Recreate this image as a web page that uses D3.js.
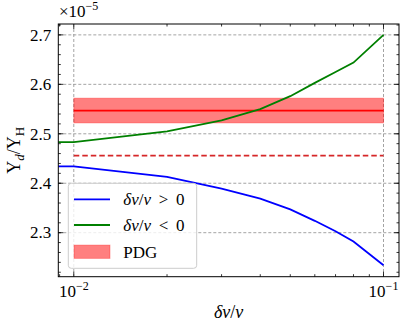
<!DOCTYPE html>
<html>
<head>
<meta charset="utf-8">
<script src="https://cdn.jsdelivr.net/npm/d3@7"></script>
<style>
  body { margin: 0; background: #fff; }
  text { font-family: "Liberation Serif", "DejaVu Serif", serif; fill: #000; }
</style>
</head>
<body>
<div id="chart"></div>
<script>
// values (y in units of 1e-5)
const dvOverV = [0.005, 0.01, 0.02, 0.03, 0.04, 0.05, 0.06, 0.07, 0.08, 0.1];
const positive = [2.434, 2.434, 2.413, 2.389, 2.369, 2.347, 2.324, 2.303, 2.282, 2.234];
const negative = [2.483, 2.483, 2.505, 2.527, 2.550, 2.576, 2.603, 2.625, 2.644, 2.700];
const pdgRange = [0.01, 0.1];
const pdgCentral = 2.547;
const pdgError = 0.025;
const dashedLevel = 2.456;
const yTicks = [2.3, 2.4, 2.5, 2.6, 2.7];
const yMinor = d3.range(2.22, 2.73, 0.02);
const xTicks = [0.01, 0.1];
const xMinor = [0.009, 0.02, 0.03, 0.04, 0.05, 0.06, 0.07, 0.08, 0.09];

const W = 407, H = 329;
const margin = { top: 24, right: 8, bottom: 52.3, left: 58.3 };
const width = W - margin.left - margin.right;
const height = H - margin.top - margin.bottom;

const svg = d3.select('#chart').append('svg')
  .attr('width', W).attr('height', H);

const g = svg.append('g')
  .attr('transform', `translate(${margin.left},${margin.top})`);

const x = d3.scaleLog()
  .domain([Math.pow(10, -2.05), Math.pow(10, -0.95)])
  .range([0, width]);
const y = d3.scaleLinear()
  .domain([2.211, 2.722])
  .range([height, 0]);

g.append('clipPath').attr('id', 'clip')
  .append('rect').attr('width', width).attr('height', height);

// grid
const grid = g.append('g').attr('stroke', '#8c8c8c').attr('stroke-width', 0.8)
  .attr('stroke-dasharray', '3,2');
grid.selectAll('.gy').data(yTicks).enter().append('line')
  .attr('x1', 0).attr('x2', width)
  .attr('y1', d => y(d)).attr('y2', d => y(d));
grid.selectAll('.gx').data(xTicks).enter().append('line')
  .attr('y1', 0).attr('y2', height)
  .attr('x1', d => x(d)).attr('x2', d => x(d));

const plot = g.append('g').attr('clip-path', 'url(#clip)');

// PDG band
plot.append('rect')
  .attr('x', x(pdgRange[0]))
  .attr('width', x(pdgRange[1]) - x(pdgRange[0]))
  .attr('y', y(pdgCentral + pdgError))
  .attr('height', y(pdgCentral - pdgError) - y(pdgCentral + pdgError))
  .attr('fill', 'rgba(255,0,0,0.5)')
  .attr('stroke', 'rgba(255,0,0,0.3)')
  .attr('stroke-width', 1);
plot.append('line')
  .attr('x1', x(pdgRange[0])).attr('x2', x(pdgRange[1]))
  .attr('y1', y(pdgCentral)).attr('y2', y(pdgCentral))
  .attr('stroke', '#ff0000').attr('stroke-width', 1.8);

// dashed level
plot.append('line')
  .attr('x1', x(pdgRange[0])).attr('x2', x(pdgRange[1]))
  .attr('y1', y(dashedLevel)).attr('y2', y(dashedLevel))
  .attr('stroke', '#d62728').attr('stroke-width', 1.8)
  .attr('stroke-dasharray', '5.5,3');

const line = d3.line().x(d => x(d[0])).y(d => y(d[1]));
plot.append('path')
  .datum(dvOverV.map((d, i) => [d, positive[i]]))
  .attr('d', line).attr('fill', 'none')
  .attr('stroke', '#0000ff').attr('stroke-width', 1.8);
plot.append('path')
  .datum(dvOverV.map((d, i) => [d, negative[i]]))
  .attr('d', line).attr('fill', 'none')
  .attr('stroke', '#008000').attr('stroke-width', 1.8);

// ticks (inward, all four sides)
const ticks = g.append('g').attr('stroke', '#000').attr('stroke-width', 0.8);
const major = 5, minor = 2.5;
yTicks.forEach(v => {
  ticks.append('line').attr('x1', 0).attr('x2', major).attr('y1', y(v)).attr('y2', y(v));
  ticks.append('line').attr('x1', width).attr('x2', width - major).attr('y1', y(v)).attr('y2', y(v));
});
yMinor.forEach(v => {
  ticks.append('line').attr('x1', 0).attr('x2', minor).attr('y1', y(v)).attr('y2', y(v));
  ticks.append('line').attr('x1', width).attr('x2', width - minor).attr('y1', y(v)).attr('y2', y(v));
});
xTicks.forEach(v => {
  ticks.append('line').attr('y1', height).attr('y2', height - major).attr('x1', x(v)).attr('x2', x(v));
  ticks.append('line').attr('y1', 0).attr('y2', major).attr('x1', x(v)).attr('x2', x(v));
});
xMinor.forEach(v => {
  ticks.append('line').attr('y1', height).attr('y2', height - minor).attr('x1', x(v)).attr('x2', x(v));
  ticks.append('line').attr('y1', 0).attr('y2', minor).attr('x1', x(v)).attr('x2', x(v));
});

// frame
g.append('rect').attr('width', width).attr('height', height)
  .attr('fill', 'none').attr('stroke', '#000').attr('stroke-width', 1);

// tick labels
g.selectAll('.yl').data(yTicks).enter().append('text')
  .attr('x', -7).attr('y', d => y(d)).attr('dy', '0.34em')
  .attr('text-anchor', 'end').style('font-size', '17px')
  .text(d => d.toFixed(1));

const xl = g.selectAll('.xl').data(xTicks).enter().append('text')
  .attr('x', d => x(d)).attr('y', height + 20)
  .attr('text-anchor', 'middle').style('font-size', '17px');
xl.append('tspan').text('10');
xl.append('tspan').attr('dy', -7).style('font-size', '12px')
  .text(d => '\u2212' + Math.round(-Math.log10(d)));

// offset text
const off = svg.append('text').attr('x', 59).attr('y', 17).style('font-size', '17px');
off.append('tspan').text('\u00d710');
off.append('tspan').attr('dy', -7).style('font-size', '12px').text('\u22125');

// axis labels
const xlab = svg.append('text')
  .attr('x', margin.left + width / 2).attr('y', 318)
  .attr('text-anchor', 'middle').style('font-size', '18px');
xlab.append('tspan').style('font-style', 'italic').text('\u03b4v');
xlab.append('tspan').text('/');
xlab.append('tspan').style('font-style', 'italic').text('v');

const ylab = svg.append('text')
  .attr('transform', `translate(20,${margin.top + height / 2}) rotate(-90)`)
  .attr('text-anchor', 'middle').style('font-size', '18px');
ylab.append('tspan').text('Y');
ylab.append('tspan').attr('dy', 4).style('font-size', '13px').style('font-style', 'italic').text('d');
ylab.append('tspan').attr('dy', -4).text('/Y');
ylab.append('tspan').attr('dy', 4).style('font-size', '13px').text('H');

// legend
const legend = svg.append('g').attr('transform', 'translate(68.3,183.3)');
legend.append('rect').attr('width', 128.4).attr('height', 85)
  .attr('rx', 3).attr('fill', 'rgba(255,255,255,0.8)')
  .attr('stroke', '#cccccc').attr('stroke-width', 1);
const items = [
  { label: ['\u03b4v', '/', 'v', ' > 0'], type: 'line', color: '#0000ff', yy: 16 },
  { label: ['\u03b4v', '/', 'v', ' < 0'], type: 'line', color: '#008000', yy: 41.7 },
  { label: ['PDG'], type: 'patch', color: '#ff0000', yy: 68.5 }
];
items.forEach(it => {
  if (it.type === 'line') {
    legend.append('line').attr('x1', 5.7).attr('x2', 41.7)
      .attr('y1', it.yy).attr('y2', it.yy)
      .attr('stroke', it.color).attr('stroke-width', 1.8);
  } else {
    legend.append('rect').attr('x', 5.7).attr('width', 36)
      .attr('y', it.yy - 6.7).attr('height', 13.3)
      .attr('fill', 'rgba(255,0,0,0.5)').attr('stroke', 'rgba(255,0,0,0.3)');
  }
  const t = legend.append('text').attr('x', 55).attr('y', it.yy).attr('dy', '0.35em')
    .style('font-size', '17px').attr('xml:space', 'preserve');
  it.label.forEach((s, i) => {
    t.append('tspan')
      .style('font-style', (it.label.length > 1 && (i === 0 || i === 2)) ? 'italic' : 'normal')
      .text(s.replace(/ /g, '\u2009 '));
  });
});
</script>
</body>
</html>
